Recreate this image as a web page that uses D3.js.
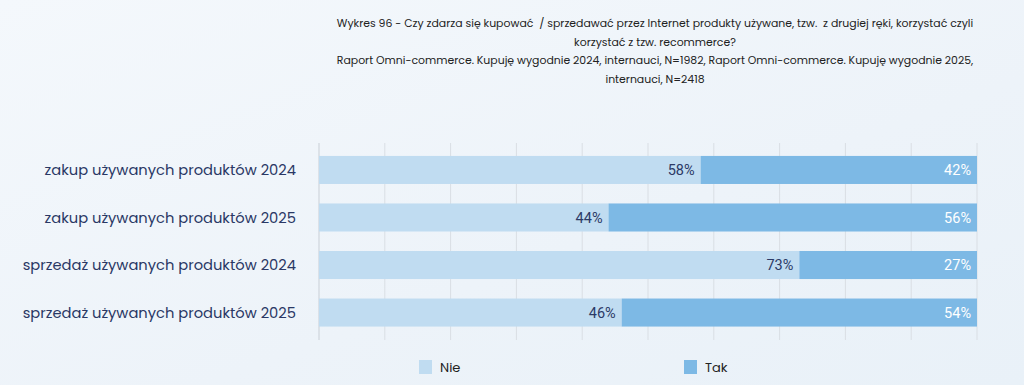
<!DOCTYPE html>
<html lang="pl">
<head>
    <meta charset="UTF-8">
    <title>Wykres 96</title>
    <script src="https://d3js.org/d3.v7.min.js"></script>
    <style>
        body { margin: 0; background: #f0f5fa; }
        svg { display: block; font-family: 'Poppins', Lato, 'Open Sans', sans-serif; }
        .title { font-size: 10.9px; fill: #222; white-space: pre; }
        .cat { font-size: 14.7px; fill: #2a3865; }
        .val { font-family: Roboto, 'Liberation Sans', sans-serif; font-size: 14.5px; font-weight: 400; }
        .legend text { font-size: 13px; fill: #222; }
    </style>
</head>
<body>
<svg id="chart" width="1024" height="385"></svg>
<script>
    const categories = [
        "zakup używanych produktów 2024",
        "zakup używanych produktów 2025",
        "sprzedaż używanych produktów 2024",
        "sprzedaż używanych produktów 2025"
    ];
    const nie = [58, 44, 73, 46];
    const tak = [42, 56, 27, 54];
    const seriesNames = ["Nie", "Tak"];
    const seriesColors = ["#c0dcf1", "#7db9e5"];
    const xTicks = d3.range(0, 101, 10);
    const titleLines = [
        "Wykres 96 - Czy zdarza się kupować  / sprzedawać przez Internet produkty używane, tzw.  z drugiej ręki, korzystać czyli",
        "korzystać z tzw. recommerce?",
        "Raport Omni-commerce. Kupuję wygodnie 2024, internauci, N=1982, Raport Omni-commerce. Kupuję wygodnie 2025,",
        "internauci, N=2418"
    ];

    const svg = d3.select("#chart");

    // tło
    const defs = svg.append("defs");
    const grad = defs.append("linearGradient").attr("id", "bg").attr("x1", 0).attr("y1", 0).attr("x2", 1).attr("y2", 1);
    grad.append("stop").attr("offset", "0%").attr("stop-color", "#f4f8fc");
    grad.append("stop").attr("offset", "60%").attr("stop-color", "#edf3f9");
    grad.append("stop").attr("offset", "100%").attr("stop-color", "#e9f1f8");
    svg.append("rect").attr("width", 1024).attr("height", 385).attr("fill", "url(#bg)");

    // tytuł
    svg.append("g").selectAll("text").data(titleLines).join("text")
        .attr("class", "title")
        .attr("x", 655)
        .attr("y", (d, i) => 27 + i * 18.5)
        .attr("text-anchor", "middle")
        .text(d => d);

    const x = d3.scaleLinear().domain([0, 100]).range([319, 977]);
    const y = d3.scaleBand().domain(categories).range([145, 337.5]).paddingInner(0.41).paddingOuter(0.23);

    // siatka
    svg.append("g").selectAll("line").data(xTicks).join("line")
        .attr("x1", d => x(d)).attr("x2", d => x(d))
        .attr("y1", 143).attr("y2", 340)
        .attr("stroke", d => d === 0 ? "#c9cfd6" : "#d9dee4")
        .attr("stroke-width", 1);

    const rows = categories.map((c, i) => ({ cat: c, nie: nie[i], tak: tak[i] }));

    const row = svg.append("g").selectAll("g").data(rows).join("g");

    row.append("rect")
        .attr("x", x(0))
        .attr("y", d => y(d.cat))
        .attr("width", d => x(d.nie) - x(0))
        .attr("height", y.bandwidth())
        .attr("fill", seriesColors[0]);

    row.append("rect")
        .attr("x", d => x(d.nie))
        .attr("y", d => y(d.cat))
        .attr("width", d => x(d.nie + d.tak) - x(d.nie))
        .attr("height", y.bandwidth())
        .attr("fill", seriesColors[1]);

    row.append("text")
        .attr("class", "val")
        .attr("x", d => x(d.nie) - 6)
        .attr("y", d => y(d.cat) + y.bandwidth() / 2)
        .attr("dy", "0.36em")
        .attr("text-anchor", "end")
        .attr("fill", "#2c3a66")
        .text(d => d.nie + "%");

    row.append("text")
        .attr("class", "val")
        .attr("x", d => x(d.nie + d.tak) - 6)
        .attr("y", d => y(d.cat) + y.bandwidth() / 2)
        .attr("dy", "0.36em")
        .attr("text-anchor", "end")
        .attr("fill", "#ffffff")
        .text(d => d.tak + "%");

    // etykiety kategorii
    row.append("text")
        .attr("class", "cat")
        .attr("x", 296)
        .attr("y", d => y(d.cat) + y.bandwidth() / 2)
        .attr("dy", "0.35em")
        .attr("text-anchor", "end")
        .text(d => d.cat);

    // legenda
    const legendX = [419, 684];
    const legend = svg.append("g").attr("class", "legend").selectAll("g").data(seriesNames).join("g")
        .attr("transform", (d, i) => `translate(${legendX[i]},360)`);
    legend.append("rect").attr("width", 13).attr("height", 14).attr("fill", (d, i) => seriesColors[i]);
    legend.append("text").attr("x", 21).attr("y", 7).attr("dy", "0.36em").text(d => d);
</script>
</body>
</html>
